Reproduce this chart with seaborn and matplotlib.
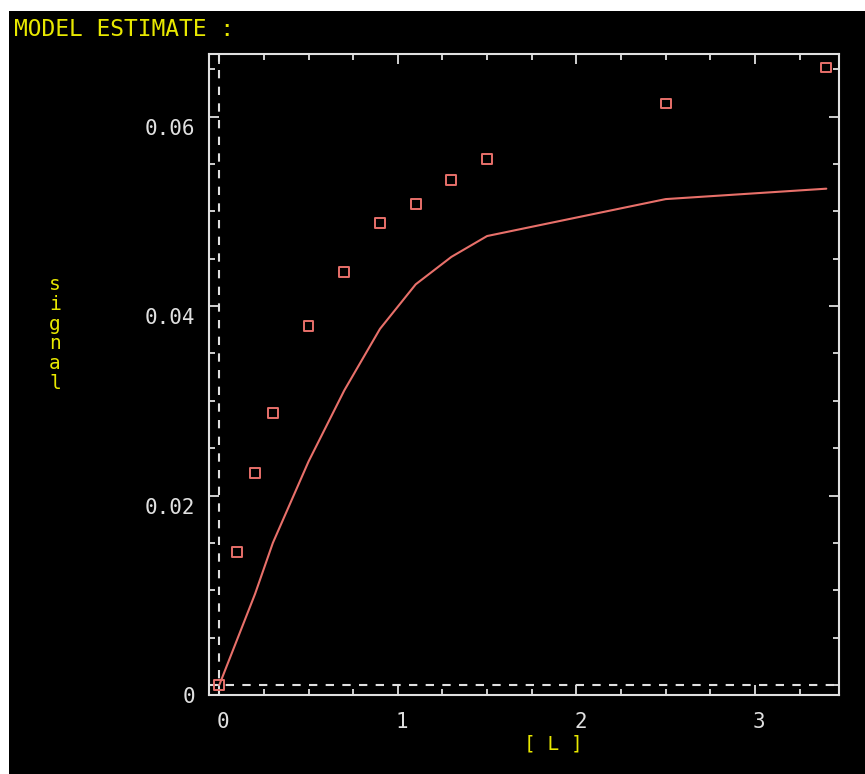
import matplotlib
matplotlib.use('Agg')
import matplotlib.pyplot as plt
import matplotlib.transforms as mtransforms
from matplotlib.patches import Rectangle
from matplotlib.ticker import MultipleLocator
import seaborn as sns

# concentration [L] and measured / fitted signal
conc = [0.0, 0.1, 0.2, 0.3, 0.5, 0.7, 0.9, 1.1, 1.3, 1.5, 2.5, 3.4]
observed = [0.0, 0.0140, 0.0224, 0.0287, 0.0379, 0.0436, 0.0488, 0.0508, 0.0533, 0.0555, 0.0614, 0.0652]
model = [0.0, 0.0048, 0.0096, 0.0150, 0.0236, 0.0311, 0.0376, 0.0423, 0.0452, 0.0474, 0.0513, 0.0524]

x_ticks = [0, 1, 2, 3]
x_tick_labels = ['0', '1', '2', '3']
y_ticks = [0, 0.02, 0.04, 0.06]
y_tick_labels = ['0', '0.02', '0.04', '0.06']

RED = '#e8706a'
GREY = '#e0e0e0'
YELLOW = '#e8e800'

sns.set_theme(style='ticks')
plt.rcParams['font.family'] = ['DejaVu Sans Mono']

fig = plt.figure(figsize=(8.65, 7.74), dpi=100, facecolor='white')
fig.patches.append(Rectangle((9 / 865, 0), 1, 1 - 11 / 774, transform=fig.transFigure,
                             facecolor='black', edgecolor='none', zorder=-10))
ax = fig.add_axes([209 / 865, 1 - 695 / 774, 630 / 865, 641 / 774])
ax.set_facecolor('black')

ax.axhline(0, color=GREY, lw=1.5, ls=(0, (4, 4)), zorder=1)
ax.axvline(0, color=GREY, lw=1.5, ls=(0, (4, 4)), zorder=1)

sns.lineplot(x=conc, y=model, color=RED, lw=1.5, estimator=None, sort=False, ax=ax, zorder=2)
sns.scatterplot(x=conc, y=observed, marker='s', s=50, facecolors='none', edgecolor=RED,
                linewidth=1.4, ax=ax, zorder=3)

ax.set_xlim(-0.0577, 3.471)
ax.set_ylim(-0.00106, 0.06662)

for s in ax.spines.values():
    s.set_visible(True)
    s.set_color(GREY)
    s.set_linewidth(1.5)

ax.set_xticks(x_ticks)
ax.set_xticklabels(x_tick_labels)
ax.set_yticks(y_ticks)
ax.set_yticklabels(y_tick_labels)
ax.xaxis.set_minor_locator(MultipleLocator(0.25))
ax.yaxis.set_minor_locator(MultipleLocator(0.005))
ax.tick_params(which='both', direction='in', top=True, right=True, color=GREY, width=1.3)
ax.tick_params(which='major', length=7)
ax.tick_params(which='minor', length=4)
ax.tick_params(axis='x', which='major', pad=12, labelsize=15, labelcolor=GREY)
ax.tick_params(axis='y', which='major', pad=10, labelsize=15, labelcolor=GREY)

# the old terminal put labels a bit below / right of the ticks
for lab in ax.get_yticklabels():
    lab.set_transform(lab.get_transform() + mtransforms.ScaledTranslation(0, -0.10, fig.dpi_scale_trans))
for lab in ax.get_xticklabels():
    lab.set_transform(lab.get_transform() + mtransforms.ScaledTranslation(0.04, 0, fig.dpi_scale_trans))

ax.set_xlabel('[ L ]', color=YELLOW, fontsize=14, va='center')
ax.xaxis.set_label_coords((553.5 - 209) / 630, (695 - 744) / 641)
ax.set_ylabel('s\ni\ng\nn\na\nl', color=YELLOW, fontsize=14, rotation=0,
              va='center', ha='center', linespacing=1.05)
ax.yaxis.set_label_coords((55 - 209) / 630, (695 - 334) / 641)

fig.text(14 / 865, 1 - 29 / 774, 'MODEL ESTIMATE :', color=YELLOW, fontsize=16.5,
         ha='left', va='center')

fig.savefig('out.png', dpi=100, facecolor=fig.get_facecolor())
